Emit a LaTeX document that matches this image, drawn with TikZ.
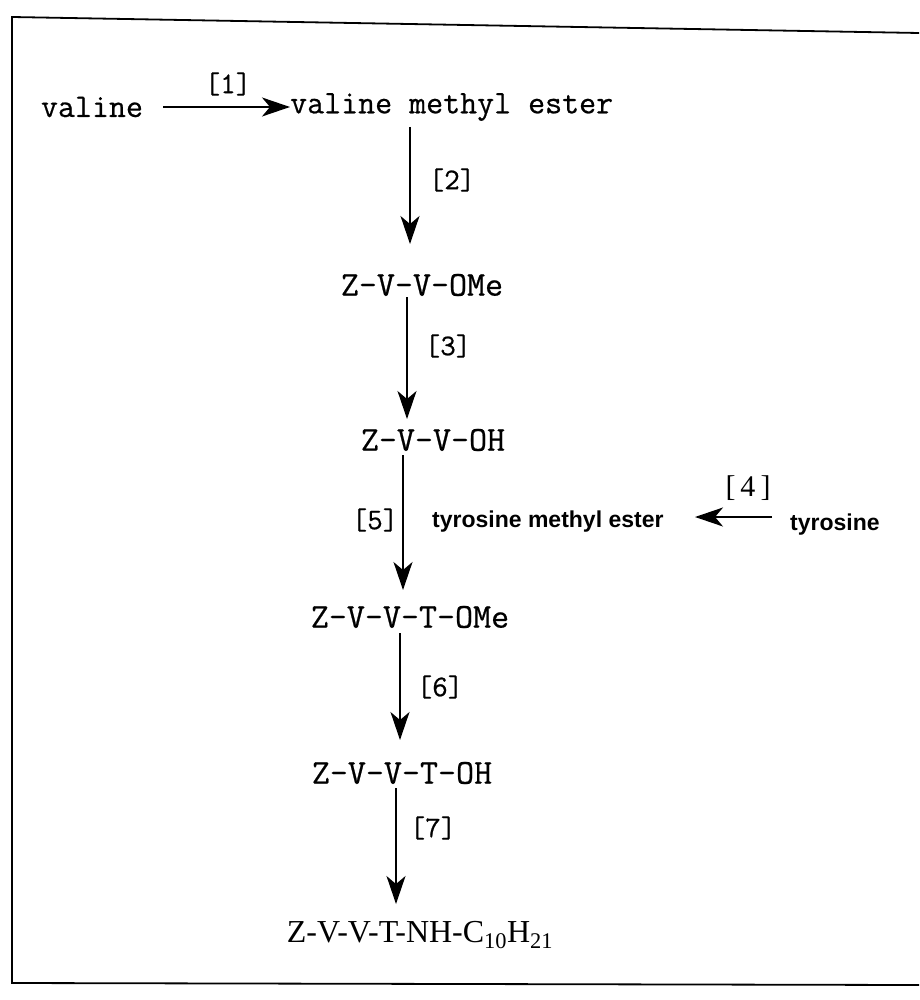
\documentclass[tikz,border=0pt]{standalone}
\usepackage{fontspec}
\setmonofont{Latin Modern Mono}[FakeBold=0.6]
\setsansfont{Liberation Sans}
\setmainfont{Liberation Serif}
\usetikzlibrary{arrows.meta}
\begin{document}
\begin{tikzpicture}[x=1pt,y=-1pt,
  mono/.style={font=\ttfamily\fontsize{33}{35}\selectfont, inner sep=0pt},
  monob/.style={font=\ttfamily\fontsize{35}{37}\selectfont, inner sep=0pt},
  lab/.style={font=\ttfamily\fontsize{30}{32}\selectfont, inner sep=0pt},
  sansb/.style={font=\sffamily\bfseries\fontsize{23}{25}\selectfont, inner sep=0pt},
  serifn/.style={font=\rmfamily\fontsize{32}{34}\selectfont, inner sep=0pt},
  serifl/.style={font=\rmfamily\fontsize{30}{32}\selectfont, inner sep=0pt},
  rx/.style={-{Stealth[length=28pt,width=19pt,inset=8pt]}, line width=1.6pt}]
\useasboundingbox (0,0) rectangle (919,1000);
% frame
\draw[line width=1.8pt] (919,33) -- (12,17) -- (12,983) -- (919,985);
% nodes
\node[mono] (val) at (92,107) {valine};
\node[mono,anchor=west] (vme) at (290,107) {valine methyl ester};
\node[monob] (zvvome) at (422,285) {Z-V-V-OMe};
\node[monob] (zvvoh) at (433,440) {Z-V-V-OH};
\node[sansb,anchor=west] (tme) at (432,522) {tyrosine methyl ester};
\node[sansb,anchor=west] (tyr) at (790,525) {tyrosine};
\node[monob] (zvvtome) at (410,617) {Z-V-V-T-OMe};
\node[monob] (zvvtoh) at (402,773) {Z-V-V-T-OH};
\node[serifn] (final) at (420,935) {Z-V-V-T-NH-C\textsubscript{10}H\textsubscript{21}};
% anchor points for arrows
\coordinate (a1s) at (163,107);
\coordinate (a1e) at (290,107);
\coordinate (a2s) at (410,127);
\coordinate (a2e) at (410,244);
\coordinate (a3s) at (407,297);
\coordinate (a3e) at (407,419);
\coordinate (a5s) at (403,455);
\coordinate (a5e) at (403,590);
\coordinate (a4s) at (772,517);
\coordinate (a4e) at (695,517);
\coordinate (a6s) at (400,633);
\coordinate (a6e) at (400,740);
\coordinate (a7s) at (396,788);
\coordinate (a7e) at (396,904);
% arrows
\draw[rx] (a1s) -- (a1e);
\draw[rx] (a2s) -- (a2e);
\draw[rx] (a3s) -- (a3e);
\draw[rx] (a5s) -- (a5e);
\draw[rx] (a4s) -- (a4e);
\draw[rx] (a6s) -- (a6e);
\draw[rx] (a7s) -- (a7e);
% labels
\node[lab] (l1) at (228,84) {[1]};
\node[lab] (l2) at (452,180) {[2]};
\node[lab] (l3) at (448,346) {[3]};
\node[lab] (l5) at (375,520) {[5]};
\node[serifl] (l4) at (748,488) {[\,4\,]};
\node[lab] (l6) at (440,687) {[6]};
\node[lab] (l7) at (433,828) {[7]};
\end{tikzpicture}
\end{document}
